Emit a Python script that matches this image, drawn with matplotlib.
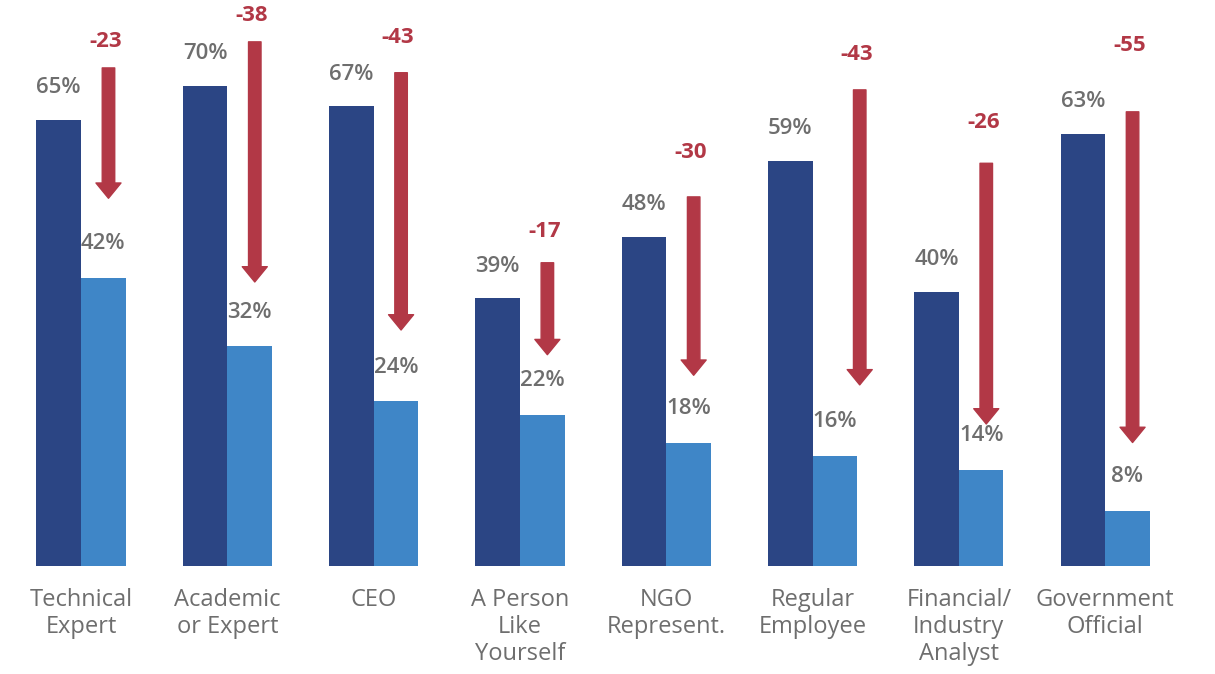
import matplotlib.pyplot as plt
import numpy as np

categories = ['Technical\nExpert', 'Academic\nor Expert', 'CEO', 'A Person\nLike\nYourself',
              'NGO\nRepresent.', 'Regular\nEmployee', 'Financial/\nIndustry\nAnalyst', 'Government\nOfficial']
before = [65, 70, 67, 39, 48, 59, 40, 63]
after = [42, 32, 24, 22, 18, 16, 14, 8]
change = [-23, -38, -43, -17, -30, -43, -26, -55]

# arrow start / end and label height (in % units)
arrow_from = [72.6, 76.4, 71.9, 44.2, 53.8, 69.4, 58.7, 66.2]
arrow_to = [53.6, 41.4, 34.4, 30.8, 27.8, 26.4, 20.7, 18.0]
change_y = [76.5, 80.3, 77.0, 48.7, 60.2, 74.5, 64.6, 75.9]

dark = '#2b4584'
light = '#3f86c7'
red = '#b23846'
grey = '#6e6e6e'

plt.rcParams['font.family'] = ['Open Sans', 'DejaVu Sans']

fig = plt.figure(figsize=(12.15, 6.74), dpi=100)
ax = fig.add_axes([0, 108 / 674, 1, 566 / 674])

x = np.arange(len(categories))
w = 0.305
ax.bar(x - w / 2, before, w, color=dark)
ax.bar(x + w / 2, after, w, color=light)

for i in range(len(x)):
    ax.text(x[i] - w / 2, before[i] + 4.7, f'{before[i]}%', ha='center', va='center',
            fontsize=16, fontweight='semibold', color=grey)
    ax.text(x[i] + w / 2, after[i] + 5.0, f'{after[i]}%', ha='center', va='center',
            fontsize=16, fontweight='semibold', color=grey)
    ax_x = x[i] + w / 2 + (0.17 if i == 5 else 0.035)
    ax.annotate('', xy=(ax_x, arrow_to[i]), xytext=(ax_x, arrow_from[i]),
                arrowprops=dict(arrowstyle='simple,head_width=1.8,head_length=1.1,tail_width=0.9',
                                mutation_scale=10, color=red, shrinkA=0, shrinkB=0))
    ax.text(ax_x - 0.02, change_y[i], str(change[i]), ha='center', va='center',
            fontsize=16, fontweight='bold', color=red)

ax.set_xlim(-0.554, 7.751)
ax.set_ylim(0, 82.5)
ax.set_xticks(x, categories)
ax.tick_params(axis='x', length=0, pad=16, labelsize=17, labelcolor=grey)
plt.setp(ax.get_xticklabels(), linespacing=1.15)
ax.set_yticks([])
for s in ax.spines.values():
    s.set_visible(False)

plt.savefig('out.png', dpi=100)
